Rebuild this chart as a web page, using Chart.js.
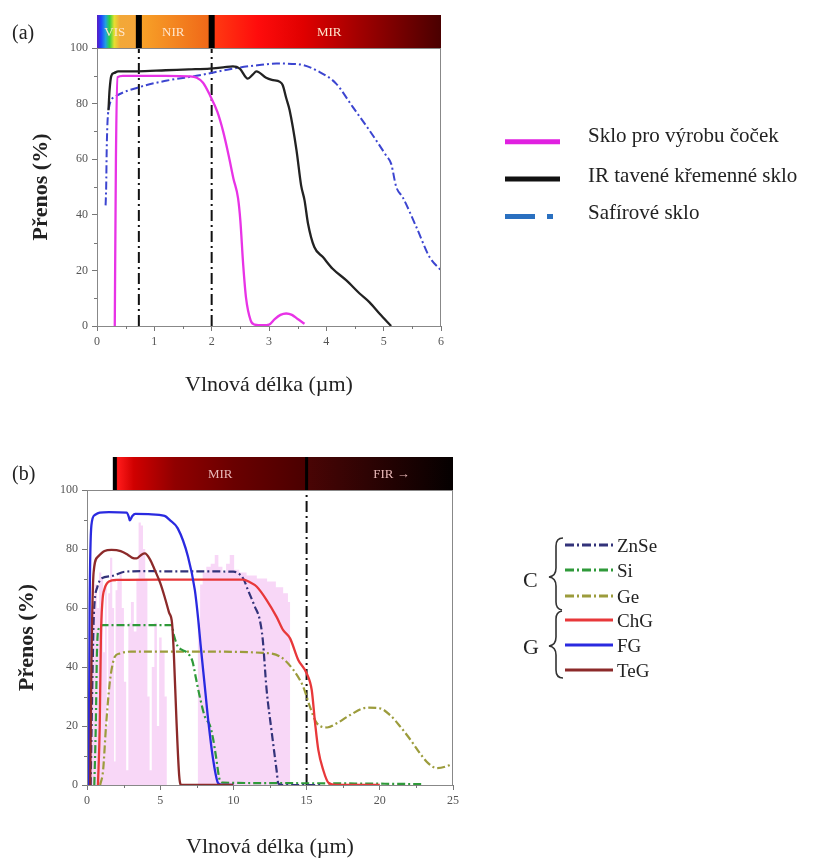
<!DOCTYPE html>
<html><head><meta charset="utf-8">
<script src="https://cdn.jsdelivr.net/npm/chart.js@4.4.1/dist/chart.umd.min.js"></script>
<style>
body{margin:0;background:#fff;width:829px;height:858px;overflow:hidden;position:relative;font-family:"Liberation Serif","Times New Roman",serif;color:#222}
canvas{position:absolute;left:0}
.t{position:absolute;white-space:nowrap;line-height:1;transform:translateY(-50%)}
svg{position:absolute;left:0;top:0}
</style></head><body>
<canvas id="ca" width="470" height="410" style="top:0"></canvas>
<canvas id="cb" width="470" height="438" style="top:420px"></canvas>
<div class="t" style="left:12px;top:32px;font-size:20px">(a)</div>
<div class="t" style="left:12px;top:473px;font-size:20px">(b)</div>
<svg id="lg" width="829" height="858"></svg>
<div id="legA"></div><div id="legB"></div>
<script>
// ---------- Panel (a) data ----------
const xTicksA = [0, 1, 2, 3, 4, 5, 6];
const yTicks = [0, 20, 40, 60, 80, 100];
const bandsA = [{label: 'VIS', at: 0.31}, {label: 'NIR', at: 1.33}, {label: 'MIR', at: 4.05}];
const markersA = [0.73, 2.0];
const seriesNamesA = ['Sklo pro výrobu čoček', 'IR tavené křemenné sklo', 'Safírové sklo'];

const lensX = [0.31, 0.33, 0.36, 0.45, 0.8, 1.2, 1.6, 1.74, 1.85, 1.97, 2.1, 2.2, 2.3, 2.38, 2.46, 2.5, 2.55, 2.6, 2.68, 2.75, 2.9, 3.0, 3.1, 3.2, 3.3, 3.4, 3.5, 3.62];
const lensY = [0, 60, 89.5, 90, 90, 90, 89.8, 89.3, 87.5, 83, 77, 70, 61, 53, 46, 38, 22, 10, 2, 0.5, 0.3, 0.5, 2.5, 4, 4.5, 4, 2.5, 0.8];

const quartzX = [0.2, 0.22, 0.25, 0.3, 0.37, 0.7, 1.2, 1.6, 1.97, 2.2, 2.37, 2.49, 2.63, 2.72, 2.78, 2.95, 3.05, 3.19, 3.24, 3.3, 3.36, 3.48, 3.56, 3.62, 3.68, 3.79, 3.94, 4.11, 4.35, 4.58, 4.75, 4.93, 5.13];
const quartzY = [77.6, 85, 90, 91, 91.6, 91.6, 92, 92.3, 92.6, 93, 93.4, 92.6, 89, 90.5, 91.6, 89.3, 88.5, 87.8, 86.6, 82, 77.6, 63.2, 50.6, 45.2, 36.9, 28.4, 24.8, 20.6, 16.4, 11.7, 8.6, 4.4, 0];

const sapphX = [0.15, 0.16, 0.17, 0.2, 0.31, 0.75, 1.2, 1.79, 2.37, 2.8, 3.13, 3.53, 3.88, 4.17, 4.46, 4.75, 5.04, 5.13, 5.22, 5.33, 5.57, 5.8, 6.0];
const sapphY = [43.4, 50, 64.4, 77.6, 82.4, 86, 88.2, 90.2, 92.6, 93.8, 94.4, 94.1, 91.4, 87.2, 78.8, 70.4, 61.4, 58.4, 50, 46.4, 35.6, 24.8, 20];

// ---------- Panel (b) data ----------
const xTicksB = [0, 5, 10, 15, 20, 25];
const bandsB = [{label: 'MIR', at: 9.1}, {label: 'FIR \u2192', at: 20.8}];
const markersB = [15];
const seriesNamesB = ['ZnSe', 'Si', 'Ge', 'ChG', 'FG', 'TeG'];
const groupNamesB = ['C', 'G'];

const znseX = [0.25, 0.35, 0.45, 0.53, 0.7, 0.98, 1.67, 2.58, 4, 6, 8, 10, 10.67, 11.0, 11.47, 11.8, 12.0, 12.27, 12.6, 12.95, 13.07, 13.5, 16];
const znseY = [0, 30, 55, 62.7, 67, 70, 70.8, 72.3, 72.5, 72.4, 72.4, 72.3, 70, 66, 60.4, 56, 49.5, 32.2, 18.6, 5, 0.5, 0, 0];

const siX = [0.5, 0.6, 0.68, 0.8, 1.1, 3, 5.77, 5.95, 6.2, 6.5, 6.91, 7.2, 7.45, 7.7, 8.05, 8.39, 8.6, 8.8, 9.07, 9.3, 15, 23];
const siY = [0, 20, 45, 53, 54.2, 54.2, 54.2, 50.5, 47, 45.8, 44.5, 42, 36, 30, 23.2, 20.3, 16, 10, 1.7, 0.8, 0.6, 0.3];

const geX = [0.9, 1.1, 1.3, 1.55, 1.75, 1.9, 2.24, 3, 8, 12.0, 13.2, 14.1, 14.77, 15.23, 15.69, 16.4, 17.06, 17.97, 19.1, 20.0, 20.7, 21.4, 22.1, 22.75, 23.3, 23.9, 24.6, 25];
const geY = [0, 5, 20, 34.5, 41, 43.5, 44.6, 45.2, 45.2, 44.8, 43.5, 39, 33.3, 26.5, 21, 19.5, 20.9, 23.7, 26.2, 26, 23.7, 19.8, 15.3, 10.7, 7.4, 5.7, 6.4, 7.4];

const chgX = [0.75, 0.87, 0.95, 1.05, 1.2, 1.5, 2.0, 5, 8, 10.67, 11.1, 11.6, 12.27, 12.95, 13.4, 13.87, 14.43, 15.0, 15.35, 15.58, 15.8, 16.14, 16.5, 17, 20];
const chgY = [0, 20, 50, 62, 66.5, 69, 69.5, 69.6, 69.6, 69.6, 68.8, 67.2, 62.7, 57, 52.5, 49.7, 42.4, 37.9, 32.2, 21, 11.9, 5, 0.7, 0, 0];

const fgX = [0.12, 0.18, 0.3, 0.53, 0.87, 1.5, 2.7, 2.85, 2.92, 3.1, 3.3, 4.2, 5.3, 5.66, 6.2, 6.9, 7.37, 7.6, 7.75, 8.05, 8.28, 8.62, 8.96, 9.3, 10];
const fgY = [0, 60, 88, 91.5, 92.3, 92.5, 92.3, 91, 89.7, 91.2, 91.9, 91.8, 91.2, 89.8, 87, 77.4, 66, 56, 48, 33.3, 22, 8.5, 0.6, 0, 0];

const tegX = [0.22, 0.3, 0.45, 0.75, 1.2, 1.67, 2.3, 2.8, 3.1, 3.38, 3.7, 3.95, 4.3, 4.63, 5.0, 5.3, 5.6, 5.81, 5.93, 6.11, 6.3, 6.45, 10];
const tegY = [0, 40, 72, 77.4, 79.3, 79.7, 79.3, 78, 77, 76.8, 78, 78.5, 76.5, 72.9, 68.5, 63.8, 58.5, 54.8, 44.7, 22, 3, 0, 0];

const atmX = [0.2, 0.3, 0.45, 0.6, 0.75, 0.9, 1.05, 1.15, 1.3, 1.4, 1.5, 1.65, 1.8, 1.9, 2.0, 2.15, 2.3, 2.45, 2.6, 2.75, 2.9, 3.1, 3.3, 3.45, 3.6, 3.75, 3.9, 4.05, 4.2, 4.35, 4.5, 4.7, 4.85, 5.0, 5.2, 5.4, 5.5, 7.5, 7.65, 7.8, 8.0, 8.3, 8.6, 8.85, 9.1, 9.4, 9.6, 9.9, 10.2, 10.6, 11.2, 12, 12.6, 13.2, 13.6, 13.85, 13.9];
const atmY = [0, 50, 62, 68, 60, 72, 70, 45, 68, 20, 65, 77, 60, 8, 66, 70, 72, 60, 35, 5, 55, 62, 52, 70, 89, 88, 80, 70, 30, 5, 40, 55, 20, 50, 45, 30, 0, 0, 55, 68, 72, 74, 75, 78, 74, 72, 75, 78, 73, 72, 71, 70, 69, 67, 65, 62, 0];

// ---------- helpers ----------
const SERIF = "'Liberation Serif','Times New Roman',serif";
const zip = (xs, ys) => xs.map((x, i) => ({x, y: ys[i]}));
const vline = v => [{x: v, y: 0}, {x: v, y: 100}];

function decorPlugin(cfg) {
  return {
    id: 'decor',
    afterDraw(chart) {
      const {ctx, chartArea: a, scales: {x, y}} = chart;
      ctx.save();
      // frame
      ctx.strokeStyle = '#888'; ctx.lineWidth = 1;
      ctx.strokeRect(a.left + 0.5, a.top + 0.5, a.right - a.left - 1, a.bottom - a.top);
      // minor ticks
      ctx.strokeStyle = '#777';
      ctx.beginPath();
      for (let v = x.min + cfg.minorX; v < x.max; v += cfg.minorX * 2) {
        const p = Math.round(x.getPixelForValue(v)) + 0.5;
        ctx.moveTo(p, a.bottom); ctx.lineTo(p, a.bottom + 3);
      }
      for (let v = y.min + 10; v < y.max; v += 20) {
        const p = Math.round(y.getPixelForValue(v)) + 0.5;
        ctx.moveTo(a.left, p); ctx.lineTo(a.left - 3, p);
      }
      ctx.stroke();
      // colour bar
      const h = 33, top = a.top - h;
      const p0 = x.getPixelForValue(cfg.bar0), p1 = x.getPixelForValue(x.max);
      const g = ctx.createLinearGradient(p0, 0, p1, 0);
      cfg.stops.forEach(([v, c]) => g.addColorStop((v - cfg.bar0) / (x.max - cfg.bar0), c));
      ctx.fillStyle = g;
      ctx.fillRect(p0, top, p1 - p0, h);
      ctx.fillStyle = '#000';
      cfg.seps.forEach(([v, w]) => {
        const p = x.getPixelForValue(v);
        ctx.fillRect(p - w / 2, top, w, h);
      });
      ctx.font = '13px ' + SERIF;
      ctx.textAlign = 'center'; ctx.textBaseline = 'middle';
      cfg.bands.forEach(b => {
        ctx.fillStyle = cfg.textColor;
        ctx.fillText(b.label, x.getPixelForValue(b.at), top + h / 2 + 1);
      });
      ctx.restore();
    }
  };
}

function scalesFor(xmin, xmax, xstep, yWidth, xHeight, titleBottomPad, yTitlePad) {
  return {
    x: {
      type: 'linear', min: xmin, max: xmax,
      afterFit: s => { s.height = xHeight; },
      afterBuildTicks: s => { s.ticks = (xmax === 6 ? xTicksA : xTicksB).map(v => ({value: v})); },
      ticks: {font: {family: SERIF, size: 12}, color: '#555', padding: 4, maxRotation: 0},
      grid: {display: true, drawOnChartArea: false, drawTicks: true, tickLength: 5, tickColor: '#777'},
      border: {display: true, color: '#777', width: 1},
      title: {display: true, text: 'Vlnová délka (µm)', color: '#222',
        font: {family: SERIF, size: 22, lineHeight: 1}, padding: {top: 0, bottom: titleBottomPad}}
    },
    y: {
      min: 0, max: 100,
      afterFit: s => { s.width = yWidth; },
      afterBuildTicks: s => { s.ticks = yTicks.map(v => ({value: v})); },
      ticks: {font: {family: SERIF, size: 12}, color: '#555', padding: 4},
      grid: {display: true, drawOnChartArea: false, drawTicks: true, tickLength: 5, tickColor: '#777'},
      border: {display: true, color: '#777', width: 1},
      title: {display: true, text: 'Přenos (%)', color: '#222',
        font: {family: SERIF, size: 22, weight: 'bold', lineHeight: 1}, padding: {top: yTitlePad, bottom: 0}}
    }
  };
}

const baseLine = (label, data, color, dash, w) => ({
  type: 'line', label, data, borderColor: color, borderWidth: w || 2.3, borderDash: dash || [],
  pointRadius: 0, fill: false, cubicInterpolationMode: 'monotone'
});
const markerDs = v => ({type: 'line', label: 'marker', data: vline(v), borderColor: '#111',
  borderWidth: 2, borderDash: [11, 4, 2, 4], pointRadius: 0, fill: false});

// ---------- Chart (a) ----------
new Chart(document.getElementById('ca'), {
  type: 'line',
  data: {datasets: [
    baseLine(seriesNamesA[0], zip(lensX, lensY), '#e833e6', [], 2.3),
    baseLine(seriesNamesA[1], zip(quartzX, quartzY), '#222', [], 2.3),
    baseLine(seriesNamesA[2], zip(sapphX, sapphY), '#3c45d0', [8, 3, 2, 3], 2),
    ...markersA.map(markerDs)
  ]},
  options: {
    responsive: false, animation: false, parsing: true,
    layout: {padding: {left: 0, right: 29, top: 48, bottom: 0}},
    plugins: {legend: {display: false}, tooltip: {enabled: false}},
    scales: scalesFor(0, 6, 1, 97, 84, 14, 30)
  },
  plugins: [decorPlugin({
    minorX: 0.5, bar0: 0,
    stops: [[0, '#5a1cc0'], [0.07, '#2040ff'], [0.15, '#20a0e0'], [0.22, '#30d040'], [0.3, '#e6e030'],
            [0.4, '#f2a838'], [0.72, '#f5a53a'], [0.76, '#f7a228'], [1.95, '#f06818'],
            [2.0, '#ff3c12'], [2.8, '#ff0c0c'], [3.6, '#e00000'], [4.6, '#a00000'], [6, '#4a0000']],
    seps: [[0.73, 6], [2.0, 6]],
    bands: bandsA, textColor: '#ffe6cc'
  })]
});

// ---------- Chart (b) ----------
new Chart(document.getElementById('cb'), {
  type: 'line',
  data: {datasets: [
    baseLine(seriesNamesB[5], zip(tegX, tegY), '#8c2a2a'),
    baseLine(seriesNamesB[4], zip(fgX, fgY), '#2a2ae0'),
    baseLine(seriesNamesB[3], zip(chgX, chgY), '#e8383a'),
    baseLine(seriesNamesB[0], zip(znseX, znseY), '#33337a', [8, 3, 2, 3], 2.2),
    baseLine(seriesNamesB[1], zip(siX, siY), '#2f9a3a', [8, 3, 2, 3], 2.2),
    baseLine(seriesNamesB[2], zip(geX, geY), '#9c9c3c', [8, 3, 2, 3], 2.2),
    ...markersB.map(markerDs),
    {type: 'line', label: 'atm', data: zip(atmX, atmY), borderWidth: 0, pointRadius: 0,
     fill: 'origin', backgroundColor: 'rgba(236,140,232,0.35)', stepped: 'middle', order: 10}
  ]},
  options: {
    responsive: false, animation: false,
    layout: {padding: {left: 0, right: 17, top: 70, bottom: 0}},
    plugins: {legend: {display: false}, tooltip: {enabled: false}},
    scales: scalesFor(0, 25, 5, 87, 73, 0, 16)
  },
  plugins: [decorPlugin({
    minorX: 2.5, bar0: 1.8,
    stops: [[1.8, '#200000'], [2.1, '#ff1a1a'], [3.2, '#d00000'], [6, '#900000'], [10, '#6a0000'], [15, '#4a0000'],
            [15.05, '#4a0505'], [25, '#050000']],
    seps: [[1.9, 4], [15, 3]],
    bands: bandsB, textColor: '#e8b8b8'
  })]
});

// ---------- Legends (HTML/SVG) ----------
const svg = document.getElementById('lg');
const NS = 'http://www.w3.org/2000/svg';
function ln(x1, y1, x2, y2, color, w, dash) {
  const e = document.createElementNS(NS, 'line');
  e.setAttribute('x1', x1); e.setAttribute('y1', y1); e.setAttribute('x2', x2); e.setAttribute('y2', y2);
  e.setAttribute('stroke', color); e.setAttribute('stroke-width', w);
  if (dash) e.setAttribute('stroke-dasharray', dash);
  svg.appendChild(e);
}
function path(d) {
  const e = document.createElementNS(NS, 'path');
  e.setAttribute('d', d); e.setAttribute('fill', 'none'); e.setAttribute('stroke', '#333'); e.setAttribute('stroke-width', 1.6);
  svg.appendChild(e);
}
function txt(parent, s, x, y, size) {
  const d = document.createElement('div');
  d.className = 't'; d.textContent = s;
  d.style.left = x + 'px'; d.style.top = y + 'px'; d.style.fontSize = size + 'px';
  parent.appendChild(d);
}
const legA = document.getElementById('legA');
const rowsA = [141.7, 179, 216.5], txtA = [135, 175, 211.7];
ln(505, rowsA[0], 560, rowsA[0], '#e020e0', 5);
ln(505, rowsA[1], 560, rowsA[1], '#111', 5);
ln(505, rowsA[2], 535, rowsA[2], '#2a70c0', 5);
ln(547, rowsA[2], 553, rowsA[2], '#2a70c0', 5);
seriesNamesA.forEach((s, i) => txt(legA, s, 588, txtA[i], 21));

const legB = document.getElementById('legB');
const rowsB = [545, 570, 596, 620, 645, 670];
const colB = ['#33337a', '#2f9a3a', '#9c9c3c', '#e8383a', '#2a2ae0', '#8c2a2a'];
rowsB.forEach((y, i) => {
  ln(565, y, 613, y, colB[i], 3, i < 3 ? '9,3,2,3' : null);
  txt(legB, seriesNamesB[i], 617, y, 19);
});
txt(legB, groupNamesB[0], 523, 580, 22);
txt(legB, groupNamesB[1], 523, 647, 22);
path('M563 538 Q556 538 556 546 L556 568 Q556 576 549 577 Q556 578 556 586 L556 602 Q556 609 562 610');
path('M562 611 Q556 612 556 619 L556 637 Q556 645 549 646 Q556 647 556 655 L556 670 Q556 678 563 678');
</script>
</body></html>
